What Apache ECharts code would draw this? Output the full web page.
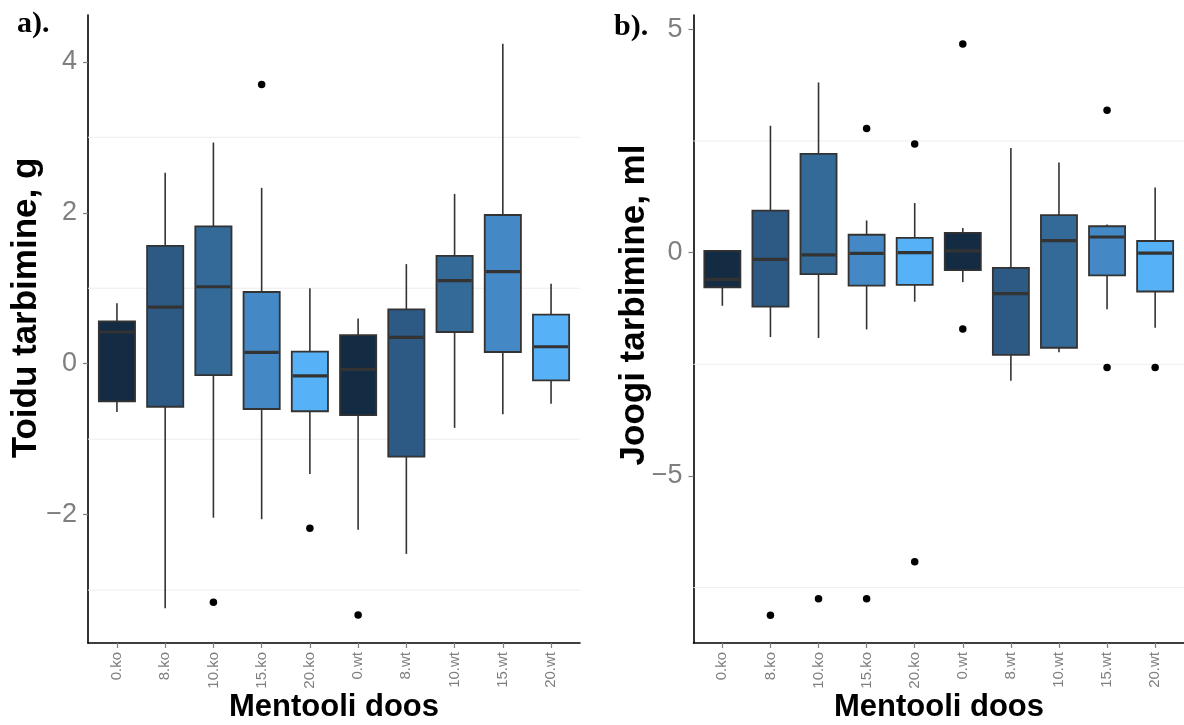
<!DOCTYPE html>
<html><head><meta charset="utf-8">
<script src="https://cdn.jsdelivr.net/npm/echarts@6/dist/echarts.min.js"></script>
<style>html,body{margin:0;padding:0;background:#fff}#c{width:1184px;height:725px}</style>
</head><body><div id="c"></div>
<script>
const categories = ['0.ko','8.ko','10.ko','15.ko','20.ko','0.wt','8.wt','10.wt','15.wt','20.wt'];
const doseIndex = [0,1,2,3,4,0,1,2,3,4];
const doseColors = ['#132B43','#2C5A85','#336A98','#4489C6','#56B1F7'];

// Panel a: Toidu tarbimine, g
const foodLow  = [-0.64,-3.24,-2.04,-2.06,-1.46,-2.20,-2.52,-0.85,-0.67,-0.53];
const foodQ1   = [-0.50,-0.57,-0.15,-0.60,-0.63,-0.68,-1.23, 0.42, 0.155,-0.22];
const foodMed  = [ 0.42, 0.75, 1.02, 0.15,-0.16,-0.075,0.35, 1.10, 1.22, 0.225];
const foodQ3   = [ 0.56, 1.56, 1.82, 0.95, 0.16, 0.38, 0.72, 1.43, 1.97, 0.65];
const foodHigh = [ 0.80, 2.53, 2.93, 2.33, 1.00, 0.60, 1.32, 2.25, 4.24, 1.06];
const foodOutliers = [[2,-3.16],[3,3.70],[4,-2.18],[5,-3.33]];
const foodTicks = [-2,0,2,4];
const foodGridLines = [-3,-1,1,3];

// Panel b: Joogi tarbimine, ml
const drinkLow  = [-1.19,-1.89,-1.91,-1.72,-1.10,-0.66,-2.87,-2.23,-1.27,-1.68];
const drinkQ1   = [-0.78,-1.21,-0.48,-0.74,-0.72,-0.39,-2.29,-2.13,-0.51,-0.87];
const drinkMed  = [-0.60,-0.15,-0.05,-0.015,0.00, 0.04,-0.92, 0.27, 0.35,-0.01];
const drinkQ3   = [ 0.04, 0.94, 2.21, 0.40, 0.33, 0.44,-0.34, 0.84, 0.59, 0.26];
const drinkHigh = [ 0.045,2.84, 3.81, 0.72, 1.11, 0.55, 2.34, 2.02, 0.63, 1.46];
const drinkOutliers = [[1,-8.12],[2,-7.75],[3,2.78],[3,-7.75],[4,2.43],[4,-6.92],[5,4.67],[5,-1.71],[8,3.19],[8,-2.57],[9,-2.57]];
const drinkTicks = [-5,0,5];
const drinkGridLines = [-7.5,-2.5,2.5];

const xPositions = categories.map((c,i)=>i+1);
const SANS = "'Liberation Sans', Arial, sans-serif";
const GREY = '#7f7f7f';

function boxData(lo,q1,md,q3,hi){
  return categories.map((c,i)=>[i+1, lo[i], q1[i], md[i], q3[i], hi[i], doseIndex[i]]);
}
function renderBox(params, api){
  const x = api.value(0);
  const lo = api.coord([x, api.value(1)]);
  const q1 = api.coord([x, api.value(2)]);
  const md = api.coord([x, api.value(3)]);
  const q3 = api.coord([x, api.value(4)]);
  const hi = api.coord([x, api.value(5)]);
  const halfW = (api.coord([x+0.375, 0])[0] - api.coord([x-0.375, 0])[0]) / 2;
  const color = doseColors[api.value(6)];
  const ls = {stroke:'#333333', lineWidth:1.6};
  return {type:'group', children:[
    {type:'line', shape:{x1:hi[0],y1:hi[1],x2:q3[0],y2:q3[1]}, style:ls},
    {type:'line', shape:{x1:q1[0],y1:q1[1],x2:lo[0],y2:lo[1]}, style:ls},
    {type:'rect', shape:{x:q3[0]-halfW, y:q3[1], width:2*halfW, height:q1[1]-q3[1]}, style:{fill:color, stroke:'#333333', lineWidth:1.8}},
    {type:'line', shape:{x1:md[0]-halfW+1,y1:md[1],x2:md[0]+halfW-1,y2:md[1]}, style:{stroke:'#333333', lineWidth:3.2}}
  ]};
}
function renderGridLine(params, api){
  const cs = params.coordSys;
  const p = api.coord([1, api.value(0)]);
  return {type:'line', shape:{x1:cs.x, y1:p[1], x2:cs.x+cs.width, y2:p[1]}, style:{stroke:'#ededed', lineWidth:1}};
}
const minus = v => v < 0 ? '\u2212' + Math.abs(v) : String(v);

function xAxisCfg(gi){
  return {type:'value', gridIndex:gi, min:0.4, max:10.6,
    axisLine:{show:true, onZero:false, lineStyle:{color:'#000', width:1.6}},
    axisTick:{show:true, customValues:xPositions, length:5, lineStyle:{color:GREY, width:1.2}},
    axisLabel:{customValues:xPositions, rotate:90, margin:9, color:GREY, fontSize:15, fontFamily:SANS,
      formatter: v => categories[Math.round(v)-1]},
    splitLine:{show:false}};
}
function yAxisCfg(gi, min, max, ticks){
  return {type:'value', gridIndex:gi, min:min, max:max,
    axisLine:{show:true, onZero:false, lineStyle:{color:'#000', width:1.6}},
    axisTick:{show:true, customValues:ticks, length:5, lineStyle:{color:GREY, width:1.2}},
    axisLabel:{customValues:ticks, margin:11, color:GREY, fontSize:27, fontFamily:SANS, formatter:minus},
    splitLine:{show:false}};
}

const chart = echarts.init(document.getElementById('c'), null, {renderer:'canvas'});
chart.setOption({
  animation:false,
  backgroundColor:'#fff',
  grid:[{left:88, top:15, width:492, height:628}, {left:693.5, top:15, width:491.5, height:628}],
  xAxis:[xAxisCfg(0), xAxisCfg(1)],
  yAxis:[yAxisCfg(0,-3.70,4.62,foodTicks), yAxisCfg(1,-8.74,5.32,drinkTicks)],
  series:[
    {type:'custom', xAxisIndex:0, yAxisIndex:0, z:1, silent:true, data:foodGridLines.map(v=>[v]), encode:{y:0}, renderItem:renderGridLine},
    {type:'custom', xAxisIndex:1, yAxisIndex:1, z:1, silent:true, data:drinkGridLines.map(v=>[v]), encode:{y:0}, renderItem:renderGridLine},
    {type:'custom', xAxisIndex:0, yAxisIndex:0, z:3, data:boxData(foodLow,foodQ1,foodMed,foodQ3,foodHigh), renderItem:renderBox},
    {type:'custom', xAxisIndex:1, yAxisIndex:1, z:3, data:boxData(drinkLow,drinkQ1,drinkMed,drinkQ3,drinkHigh), renderItem:renderBox},
    {type:'scatter', xAxisIndex:0, yAxisIndex:0, z:4, symbolSize:7.5, itemStyle:{color:'#000', opacity:1}, data:foodOutliers.map(o=>[o[0]+1,o[1]])},
    {type:'scatter', xAxisIndex:1, yAxisIndex:1, z:4, symbolSize:7.5, itemStyle:{color:'#000', opacity:1}, data:drinkOutliers.map(o=>[o[0]+1,o[1]])}
  ],
  graphic:[
    {type:'text', x:17, y:24, style:{text:'a).', font:"bold 30px 'Liberation Serif', 'Times New Roman', serif", fill:'#000', verticalAlign:'middle'}},
    {type:'text', x:614, y:27, style:{text:'b).', font:"bold 30px 'Liberation Serif', 'Times New Roman', serif", fill:'#000', verticalAlign:'middle'}},
    {type:'text', x:26, y:308, rotation:Math.PI/2, style:{text:'Toidu tarbimine, g', font:"bold 35px "+SANS, fill:'#000', align:'center', verticalAlign:'middle'}},
    {type:'text', x:634, y:305, rotation:Math.PI/2, style:{text:'Joogi tarbimine, ml', font:"bold 35px "+SANS, fill:'#000', align:'center', verticalAlign:'middle'}},
    {type:'text', x:334, y:707, style:{text:'Mentooli doos', font:"bold 31px "+SANS, fill:'#000', align:'center', verticalAlign:'middle'}},
    {type:'text', x:939, y:707, style:{text:'Mentooli doos', font:"bold 31px "+SANS, fill:'#000', align:'center', verticalAlign:'middle'}}
  ]
});
</script></body></html>
